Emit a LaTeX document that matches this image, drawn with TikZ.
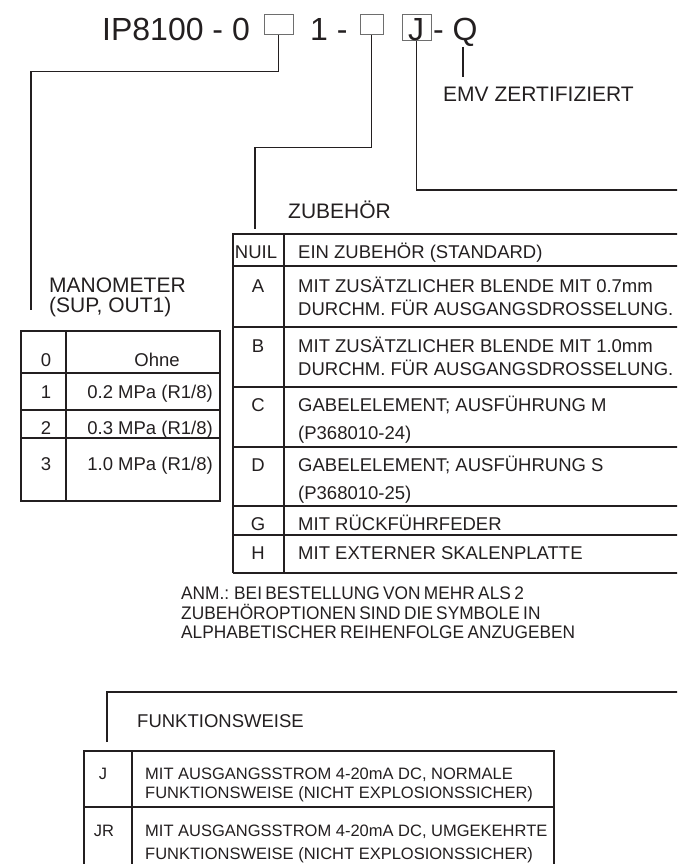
\documentclass[tikz,border=0pt]{standalone}
\usepackage{fontspec}
\setmainfont{Liberation Sans}
\newfontfamily\condfont[FakeStretch=0.95,WordSpace=0.7]{Liberation Sans}
\definecolor{ink}{HTML}{231F20}
\definecolor{boxgray}{HTML}{6E6E6E}
\begin{document}
\begin{tikzpicture}[x=1pt,y=-1pt,
  lbl/.style={inner sep=0, anchor=base west, text=ink},
  ctr/.style={inner sep=0, anchor=base, text=ink},
  ttl/.style={font=\fontsize{32}{32}\selectfont},
  hdr/.style={font=\fontsize{21}{21}\selectfont},
  cell/.style={font=\fontsize{18.5}{18.5}\selectfont},
  bcell/.style={font=\fontsize{16.5}{16.5}\selectfont},
  note/.style={font=\condfont\fontsize{18.2}{18.2}\selectfont},
  codebox/.style={draw=boxgray, line width=1pt, inner sep=0, minimum height=20pt},
  ln/.style={draw=ink, line width=1.6pt},
  frame/.style={draw=ink, line width=2pt},
  colln/.style={draw=ink, line width=2.4pt}]
\useasboundingbox (0,0) rectangle (677,864);
\clip (0,0) rectangle (677,864);

% ---------- title ----------
\node[lbl,ttl] (t1) at (102,41) {IP8100 - 0};
\node[codebox, minimum width=29pt] (b1) at (278.5,25) {};
\node[lbl,ttl] (t2) at (310,41) {1 -};
\node[codebox, minimum width=23pt] (b2) at (371.5,25) {};
\node[codebox, minimum width=29pt, minimum height=26pt] (b3) at (416.5,28) {};
\node[ctr,ttl] (tj) at (416,41) {J};
\node[lbl,ttl] (t3) at (433,41) {- Q};
\coordinate (qtop) at (463,47);
\coordinate (qbot) at (463,77);
\draw[ln] (qtop) -- (qbot);
\node[lbl,hdr] (emv) at (443,102) {EMV ZERTIFIZIERT};

% ---------- connectors ----------
\coordinate (manoTop) at (31,310);
\coordinate (zubTop) at (255,229);
\coordinate (funkEnd) at (680,190);
\draw[ln] (b1.south) -- ++(0,36) -| (manoTop);
\draw[ln] (b2.south) -- ++(0,112) -| (zubTop);
\draw[ln] (b3.south) |- (funkEnd);

% ---------- MANOMETER ----------
\node[lbl,hdr] (manoA) at (49,292) {MANOMETER};
\node[lbl,hdr] (manoB) at (49,312) {(SUP, OUT1)};
\draw[frame] (21,331) rectangle (220,501);
\draw[colln] (66,331) -- (66,501);
\draw[frame] (21,373) -- (220,373);
\draw[frame] (21,410) -- (220,410);
\draw[frame] (21,438) -- (220,438);
\node[ctr,cell] (m0) at (46,366.6) {0};
\node[ctr,cell] (m0t) at (157,366.6) {Ohne};
\node[ctr,cell] (m1) at (46,398.6) {1};
\node[cell,inner sep=0,anchor=base east,text=ink] (m1t) at (213,398.6) {0.2 MPa (R1/8)};
\node[ctr,cell] (m2) at (46,434.6) {2};
\node[cell,inner sep=0,anchor=base east,text=ink] (m2t) at (213,434.6) {0.3 MPa (R1/8)};
\node[ctr,cell] (m3) at (46,470.6) {3};
\node[cell,inner sep=0,anchor=base east,text=ink] (m3t) at (213,470.6) {1.0 MPa (R1/8)};

% ---------- ZUBEHOER ----------
\node[lbl,hdr] (zub) at (288,218) {ZUBEHÖR};
\draw[frame] (233,573) -- (233,234) -- (690,234);
\draw[frame] (233,573) -- (690,573);
\draw[colln] (284,234) -- (284,573);
\foreach \yy in {266,327,387,447,506,535} \draw[frame] (233,\yy) -- (690,\yy);
\node[ctr,cell] (zn) at (256,258.6) {NUIL};
\node[lbl,cell] (znt) at (298,258.6) {EIN ZUBEHÖR (STANDARD)};
\node[ctr,cell] (za) at (258,292.6) {A};
\node[lbl,cell] (zat) at (298,292.6) {MIT ZUSÄTZLICHER BLENDE MIT 0.7mm};
\node[lbl,cell] (zat2) at (298,315.6) {DURCHM. FÜR AUSGANGSDROSSELUNG.};
\node[ctr,cell] (zb) at (258,352.6) {B};
\node[lbl,cell] (zbt) at (298,352.6) {MIT ZUSÄTZLICHER BLENDE MIT 1.0mm};
\node[lbl,cell] (zbt2) at (298,375.6) {DURCHM. FÜR AUSGANGSDROSSELUNG.};
\node[ctr,cell] (zc) at (258,411.6) {C};
\node[lbl,cell] (zct) at (298,411.6) {GABELELEMENT; AUSFÜHRUNG M};
\node[lbl,cell] (zct2) at (298,439.6) {(P368010-24)};
\node[ctr,cell] (zd) at (258,471.6) {D};
\node[lbl,cell] (zdt) at (298,471.6) {GABELELEMENT; AUSFÜHRUNG S};
\node[lbl,cell] (zdt2) at (298,499.6) {(P368010-25)};
\node[ctr,cell] (zg) at (258,530.6) {G};
\node[lbl,cell] (zgt) at (298,530.6) {MIT RÜCKFÜHRFEDER};
\node[ctr,cell] (zh) at (258,559.6) {H};
\node[lbl,cell] (zht) at (298,559.6) {MIT EXTERNER SKALENPLATTE};

% ---------- note ----------
\node[lbl,note] (n1) at (181,599.5) {ANM.: BEI BESTELLUNG VON MEHR ALS 2};
\node[lbl,note] (n2) at (181,619.5) {ZUBEHÖROPTIONEN SIND DIE SYMBOLE IN};
\node[lbl,note] (n3) at (181,638.5) {ALPHABETISCHER REIHENFOLGE ANZUGEBEN};

% ---------- FUNKTIONSWEISE ----------
\coordinate (fTop) at (107,692);
\coordinate (fEnd) at (680,692);
\coordinate (fBot) at (107,742);
\draw[ln] (fBot) -- (fTop) -- (fEnd);
\node[lbl,font=\fontsize{18.5}{18.5}\selectfont] (funk) at (137,727.5) {FUNKTIONSWEISE};
\draw[frame] (84,870) -- (84,751) -- (554,751) -- (554,870);
\draw[colln] (132,751) -- (132,870);
\draw[frame] (84,807) -- (554,807);
\node[ctr,bcell] (fj) at (103,779) {J};
\node[lbl,bcell] (fjt) at (145,779) {MIT AUSGANGSSTROM 4-20mA DC, NORMALE};
\node[lbl,bcell] (fjt2) at (145,798) {FUNKTIONSWEISE (NICHT EXPLOSIONSSICHER)};
\node[ctr,bcell] (fjr) at (104,836) {JR};
\node[lbl,bcell] (fjrt) at (145,836) {MIT AUSGANGSSTROM 4-20mA DC, UMGEKEHRTE};
\node[lbl,bcell] (fjrt2) at (145,859.5) {FUNKTIONSWEISE (NICHT EXPLOSIONSSICHER)};
\end{tikzpicture}
\end{document}
